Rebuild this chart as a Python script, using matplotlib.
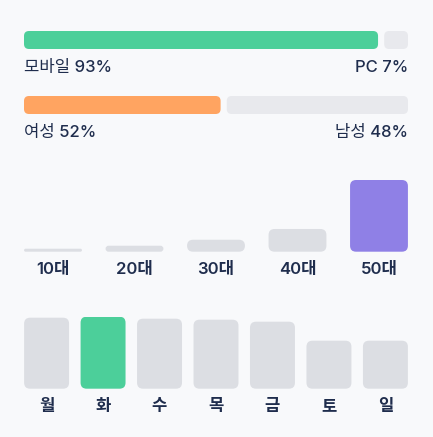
import matplotlib
matplotlib.use("Agg")
import matplotlib.pyplot as plt
from matplotlib.patches import FancyBboxPatch

plt.rcParams["font.family"] = ["Inter", "Noto Sans CJK KR", "DejaVu Sans"]

# data
device_labels = ["모바일", "PC"]
device_share = [93, 7]
gender_labels = ["여성", "남성"]
gender_share = [52, 48]

age_labels = ["10대", "20대", "30대", "40대", "50대"]
age_share = [2.5, 5, 10, 19, 60]

day_labels = ["월", "화", "수", "목", "금", "토", "일"]
day_values = [71, 72, 70, 69, 67, 48, 48]

BG = "#f8f9fb"
TEXT = "#1f2d4d"
TRACK = "#e8e9ed"
BAR_GRAY = "#dcdee3"
GREEN = "#4ccf9a"
ORANGE = "#ffa461"
PURPLE = "#8f80e6"

W, H = 433, 437
fig = plt.figure(figsize=(W / 100, H / 100), dpi=100, facecolor=BG)


def add_axes_px(left, top, width, bottom):
    ax = fig.add_axes([left / W, 1 - bottom / H, width / W, (bottom - top) / H])
    ax.set_facecolor("none")
    ax.axis("off")
    return ax


def round_bars(ax, bars, colors, radius_px):
    # swap plain bar rectangles for rounded ones, corners kept circular in pixels
    bbox = ax.get_window_extent()
    x0, x1 = ax.get_xlim()
    y0, y1 = ax.get_ylim()
    ux = abs(x1 - x0) / bbox.width
    uy = abs(y1 - y0) / bbox.height
    for rect, color in zip(bars, colors):
        x, y = rect.get_x(), rect.get_y()
        w, h = rect.get_width(), rect.get_height()
        r_px = min(radius_px, (w / ux) / 2, (h / uy) / 2)
        patch = FancyBboxPatch(
            (x, y), w, h,
            boxstyle=f"round,pad=0,rounding_size={r_px * ux}",
            mutation_aspect=uy / ux,
            facecolor=color, edgecolor="none",
        )
        rect.remove()
        ax.add_patch(patch)


# --- share bars (device / gender)
ax1 = add_axes_px(24, 7.5, 384, 137.5)
ax1.set_xlim(0, 100)
ax1.set_ylim(1.5, -0.5)
gap = 1.6
rows = [
    (device_labels, device_share, GREEN),
    (gender_labels, gender_share, ORANGE),
]
for i, (labels, share, color) in enumerate(rows):
    split = share[0]
    bars = ax1.barh(
        [i, i],
        [split - gap / 2, 100 - split - gap / 2],
        left=[0, split + gap / 2],
        height=18 / 65,
    )
    round_bars(ax1, bars, [color, TRACK], 5)
    ax1.text(0, i + 0.43, f"{labels[0]} {share[0]}%", ha="left", va="center",
             fontsize=12, color=TEXT, fontweight="medium")
    ax1.text(100, i + 0.43, f"{labels[1]} {share[1]}%", ha="right", va="center",
             fontsize=12, color=TEXT, fontweight="medium")

# --- age distribution
ax2 = add_axes_px(24, 180, 384, 251.7)
ax2.set_xlim(-0.356, 4.356)
ax2.set_ylim(0, max(age_share))
top_age = age_share.index(max(age_share))
bars = ax2.bar(range(len(age_share)), age_share, width=0.71)
round_bars(ax2, bars, [PURPLE if i == top_age else BAR_GRAY for i in range(len(age_share))], 6)
for i, lab in enumerate(age_labels):
    ax2.annotate(lab, (i, 0), xytext=(0, -13), textcoords="offset points",
                 ha="center", va="center", fontsize=12, color=TEXT, fontweight="semibold")

# --- weekday distribution
ax3 = add_axes_px(24, 316.7, 384, 388.7)
ax3.set_xlim(-0.4, 6.4)
ax3.set_ylim(0, max(day_values))
top_day = day_values.index(max(day_values))
bars = ax3.bar(range(len(day_values)), day_values, width=0.796)
round_bars(ax3, bars, [GREEN if i == top_day else BAR_GRAY for i in range(len(day_values))], 6)
for i, lab in enumerate(day_labels):
    ax3.annotate(lab, (i, 0), xytext=(0, -13), textcoords="offset points",
                 ha="center", va="center", fontsize=12, color=TEXT, fontweight="semibold")

fig.savefig("out.png", dpi=100, facecolor=BG)
